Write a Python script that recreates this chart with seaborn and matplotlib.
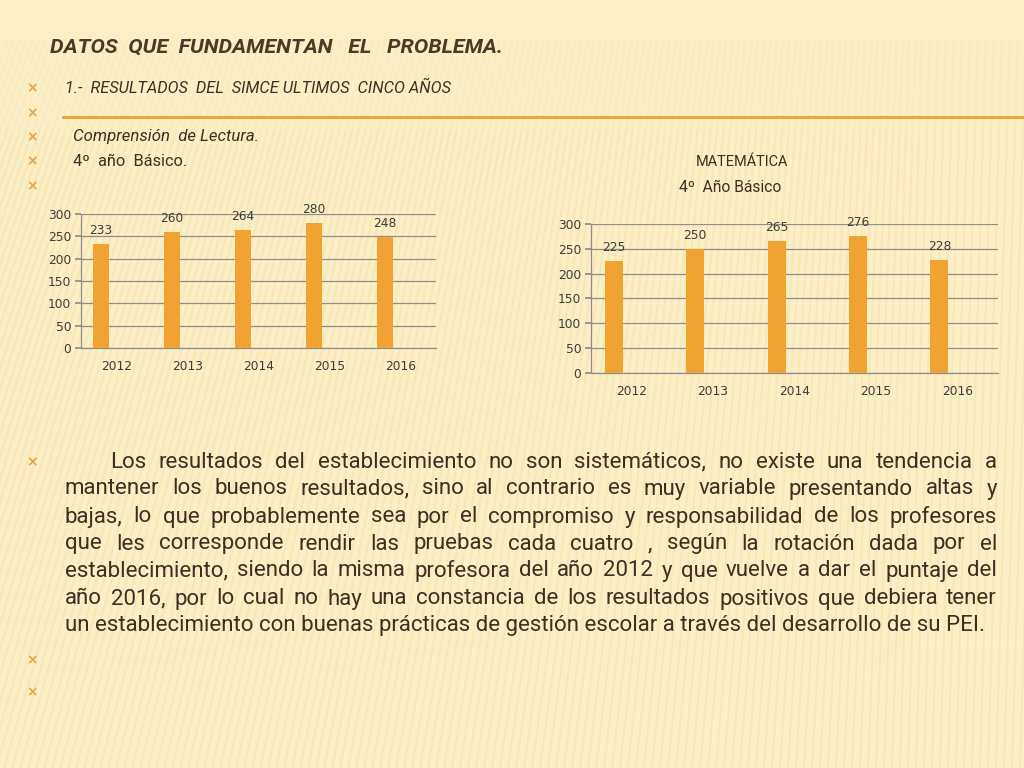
import matplotlib
matplotlib.use('Agg')
import matplotlib.pyplot as plt
import seaborn as sns
import pandas as pd
import numpy as np

# ---------------- data ----------------
years = ['2012', '2013', '2014', '2015', '2016']
lectura = [233, 260, 264, 280, 248]
matematica = [225, 250, 265, 276, 228]
yticks = [0, 50, 100, 150, 200, 250, 300]

title = 'DATOS  QUE  FUNDAMENTAN   EL   PROBLEMA.'
sub1 = '1.-  RESULTADOS  DEL  SIMCE ULTIMOS  CINCO AÑOS'
sub2 = 'Comprensión  de Lectura.'
sub3 = '4º  año  Básico.'
mat1 = 'MATEMÁTICA'
mat2 = '4º  Año Básico'
para_lines = [
    'Los resultados del establecimiento no son sistemáticos, no existe una tendencia a',
    'mantener los buenos resultados, sino al contrario es muy variable presentando altas y',
    'bajas, lo que probablemente sea por el compromiso y responsabilidad de los profesores',
    'que les corresponde rendir las pruebas cada cuatro , según la rotación dada por el',
    'establecimiento, siendo la misma profesora del año 2012 y que vuelve a dar el puntaje del',
    'año 2016, por lo cual no hay una constancia de los resultados positivos que debiera tener',
    'un establecimiento con buenas prácticas de gestión escolar a través del desarrollo de su PEI.',
]

BG = '#FCEFC6'
ORANGE = '#F0A232'
BULLET = '#E9A144'
TEXT = '#3A3122'
TITLE = '#4A3A26'
GRID = '#8E8E8E'
TICK = '#3C3C3C'

sns.set_theme(style='white')
plt.rcParams['font.family'] = ['DejaVu Sans']

fig = plt.figure(figsize=(10.24, 7.68), dpi=100, facecolor=BG)
renderer = fig.canvas.get_renderer()

# background layer in pixel coordinates
bg = fig.add_axes([0, 0, 1, 1], zorder=-5)
bg.set_xlim(0, 1024)
bg.set_ylim(768, 0)
bg.axis('off')
bg.set_facecolor(BG)
for x0 in np.arange(-260, 1100, 8):
    slope = 0.32 * max(0.0, 1 - (x0 + 200) / 1100) + 0.03
    # fade-in part near the top, then the full stripe
    y_top, y_mid = 40, 130
    xm = x0 + slope * (768 - y_mid)
    xt = x0 + slope * (768 - y_top)
    bg.plot([x0, xm], [768, y_mid], color='#F1D890', lw=1.3,
            alpha=0.35, zorder=-4, solid_capstyle='butt')
    bg.plot([xm, xt], [y_mid, y_top], color='#F1D890', lw=1.3,
            alpha=0.15, zorder=-4, solid_capstyle='butt')


def fit_text(x, y, s, width, **kw):
    t = bg.text(x, y, s, fontsize=10, **kw)
    w = t.get_window_extent(renderer).width
    t.set_fontsize(10 * width / w)
    return t


body_font = ['Roboto', 'DejaVu Sans']

# title
fit_text(50, 47, title, 452, fontstyle='italic', fontweight='bold', color=TITLE,
         va='center', ha='left', family=body_font)

# orange rule
bg.plot([63, 1024], [117, 117], color='#E9A43C', lw=2.2, zorder=2)

# bullets
for yb in [88, 113, 137, 161, 186, 462, 660, 692]:
    bg.text(32, yb, '×', color=BULLET, fontsize=10, fontweight='bold',
            ha='center', va='center')

fit_text(65, 88, sub1, 387, fontstyle='italic', color=TEXT, va='center', family=body_font)
fit_text(73, 137, sub2, 185, fontstyle='italic', color=TEXT, va='center', family=body_font)
fit_text(73, 161, sub3, 114, color=TEXT, va='center', family=body_font)
fit_text(742, 162, mat1, 92, color=TEXT, va='center', ha='center', family=body_font)
fit_text(730, 187, mat2, 103, color=TEXT, va='center', ha='center', family=body_font)

# paragraph (justified)
probe = bg.text(0, 0, para_lines[-1], fontsize=10, family=body_font)
fs = 10 * 920 / probe.get_window_extent(renderer).width
probe.remove()
line_y = [462, 489, 517, 544, 571, 599, 626]
for i, (line, yl) in enumerate(zip(para_lines, line_y)):
    x_start = 110 if i == 0 else 65
    if i == len(para_lines) - 1:
        bg.text(x_start, yl, line, fontsize=fs, color=TEXT, va='center', family=body_font)
        continue
    words = line.split()
    widths = []
    for w in words:
        t = bg.text(0, 0, w, fontsize=fs, family=body_font)
        widths.append(t.get_window_extent(renderer).width)
        t.remove()
    gap = (997 - x_start - sum(widths)) / (len(words) - 1)
    x = x_start
    for w, wd in zip(words, widths):
        bg.text(x, yl, w, fontsize=fs, color=TEXT, va='center', ha='left', family=body_font)
        x += wd + gap


def bar_chart(rect, values):
    ax = fig.add_axes(rect)
    ax.set_facecolor('none')
    df = pd.DataFrame({
        'year': years * 3,
        'serie': ['A'] * 5 + ['B'] * 5 + ['C'] * 5,
        'valor': list(values) + [np.nan] * 10,
    })
    sns.barplot(data=df, x='year', y='valor', hue='serie', hue_order=['A', 'B', 'C'],
                palette=[ORANGE] * 3, width=0.66, dodge=True, legend=False,
                errorbar=None, saturation=1, ax=ax, zorder=3,
                edgecolor='none', linewidth=0)
    for c in ax.containers:
        ax.bar_label(c, padding=5, fontsize=8.8, color=TICK, fmt='%d')
    ax.set_ylim(0, 300)
    ax.set_yticks(yticks)
    ax.set_xlim(-0.5, 4.5)
    ax.set_xlabel('')
    ax.set_ylabel('')
    ax.yaxis.grid(True, color=GRID, lw=0.9)
    ax.set_axisbelow(True)
    for s in ['top', 'right']:
        ax.spines[s].set_visible(False)
    for s in ['left', 'bottom']:
        ax.spines[s].set_color(GRID)
        ax.spines[s].set_linewidth(0.9)
    ax.set_xticks(np.arange(-0.5, 5, 1), minor=True)
    ax.tick_params(axis='x', which='major', length=0, pad=9, labelsize=8.8, labelcolor=TICK)
    ax.tick_params(axis='x', which='minor', length=4, color=GRID, direction='out')
    ax.tick_params(axis='y', length=4, color=GRID, direction='out', labelsize=8.8,
                   labelcolor=TICK, left=True, pad=3)
    return ax


bar_chart([81 / 1024, 1 - 348 / 768, 355 / 1024, 134 / 768], lectura)
bar_chart([591 / 1024, 1 - 373 / 768, 407 / 1024, 149 / 768], matematica)

fig.savefig('out.png', dpi=100, facecolor=BG)
